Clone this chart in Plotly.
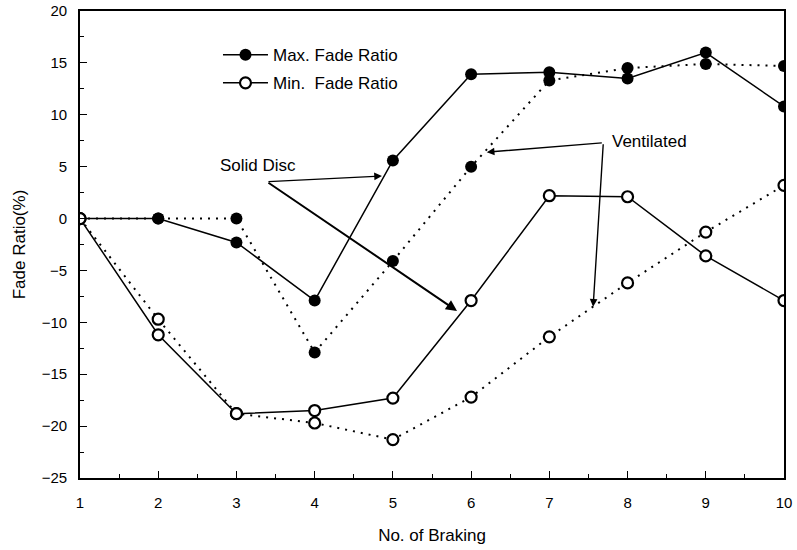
import plotly.graph_objects as go

braking = [1, 2, 3, 4, 5, 6, 7, 8, 9, 10]
solid_max = [0, 0, -2.3, -7.9, 5.6, 13.9, 14.1, 13.5, 16.0, 10.8]
vent_max = [0, 0, 0, -12.9, -4.1, 5.0, 13.3, 14.5, 14.9, 14.7]
solid_min = [0, -11.2, -18.8, -18.5, -17.3, -7.9, 2.2, 2.1, -3.6, -7.9]
vent_min = [0, -9.7, -18.8, -19.7, -21.3, -17.2, -11.4, -6.2, -1.3, 3.2]

legend_labels = ["Max. Fade Ratio", "Min.\u00a0\u00a0Fade Ratio"]

FONT = "Liberation Sans, Arial, sans-serif"
DOTS = "2px,6px"

fig = go.Figure()

fig.add_trace(go.Scatter(x=braking, y=vent_max, mode="lines+markers",
                         line=dict(color="black", width=2, dash=DOTS),
                         marker=dict(symbol="circle", size=12, color="black"),
                         showlegend=False))
fig.add_trace(go.Scatter(x=braking, y=vent_min, mode="lines+markers",
                         line=dict(color="black", width=2, dash=DOTS),
                         marker=dict(symbol="circle", size=11, color="white",
                                     line=dict(width=2.2, color="black")),
                         showlegend=False))
fig.add_trace(go.Scatter(x=braking, y=solid_max, mode="lines+markers",
                         name=legend_labels[0], legendgroup="a",
                         line=dict(color="black", width=1.5),
                         marker=dict(symbol="circle", size=12, color="black")))
fig.add_trace(go.Scatter(x=braking, y=solid_min, mode="lines+markers",
                         name=legend_labels[1], legendgroup="b",
                         line=dict(color="black", width=1.5),
                         marker=dict(symbol="circle", size=11, color="white",
                                     line=dict(width=2.2, color="black"))))

def arrow(xh, yh, xt, yt, width=1.4):
    return dict(x=xh, y=yh, ax=xt, ay=yt, xref="x", yref="y", axref="x", ayref="y",
                showarrow=True, arrowhead=2, arrowsize=1.1, arrowwidth=width,
                arrowcolor="black", text="")

annotations = [
    dict(x=3.28, y=5.1, xref="x", yref="y", text="Solid Disc", showarrow=False,
         font=dict(family=FONT, size=17, color="black")),
    arrow(4.86, 4.1, 3.39, 3.55),
    arrow(5.82, -8.9, 3.39, 3.55, 2.0),
    dict(x=7.77, y=7.4, xref="x", yref="y", text="Ventilated", showarrow=False,
         xanchor="left", font=dict(family=FONT, size=17, color="black")),
    arrow(6.2, 6.4, 7.69, 7.3),
    arrow(7.56, -8.5, 7.69, 7.3),
]

fig.update_layout(
    width=797, height=550,
    margin=dict(l=80, r=13, t=11, b=72),
    paper_bgcolor="white", plot_bgcolor="white",
    font=dict(family=FONT, size=15, color="black"),
    showlegend=True,
    legend=dict(x=0.196, y=0.944, xanchor="left", yanchor="top",
                bgcolor="rgba(0,0,0,0)", font=dict(family=FONT, size=17, color="black"),
                itemwidth=45, tracegroupgap=3, traceorder="grouped"),
    annotations=annotations,
    xaxis=dict(range=[1, 10], dtick=1, tick0=1, showgrid=False, zeroline=False,
               automargin=False,
               showline=True, linecolor="black", linewidth=1.5, mirror=True,
               ticks="inside", ticklen=7, tickcolor="black", tickwidth=1.2,
               minor=dict(ticks="inside", dtick=0.5, ticklen=4, tickcolor="black"),
               tickfont=dict(size=15, color="black"), ticklabelstandoff=10,
               title=dict(text="No. of Braking", font=dict(size=17, color="black"), standoff=19)),
    yaxis=dict(range=[-25, 20], dtick=5, showgrid=False, zeroline=False,
               automargin=False,
               showline=True, linecolor="black", linewidth=1.8, mirror=True,
               ticks="inside", ticklen=7, tickcolor="black", tickwidth=1.2,
               minor=dict(ticks="inside", dtick=2.5, ticklen=4, tickcolor="black"),
               tickfont=dict(size=15, color="black"), ticklabelstandoff=8,
               title=dict(text="Fade Ratio(%)", font=dict(size=17, color="black"), standoff=12)),
)

fig.write_html("out.html")
